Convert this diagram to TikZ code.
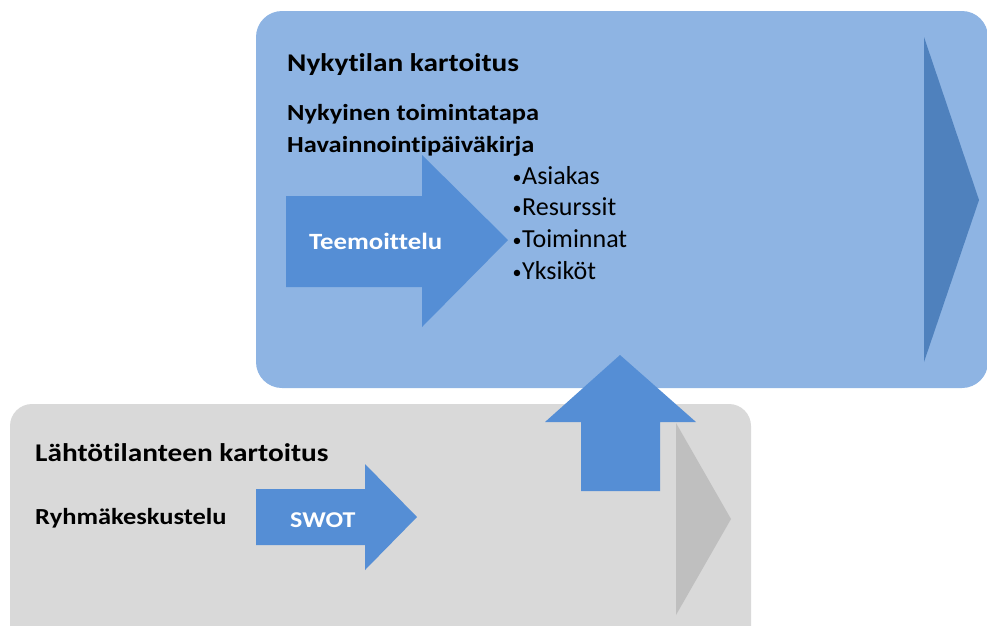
\documentclass[tikz,border=0pt]{standalone}
\usepackage{fontspec}
\setmainfont{Carlito}[Ligatures={NoCommon}]
\newfontfamily\widefont[FakeStretch=1.15,Ligatures={NoCommon}]{Carlito}
\definecolor{panelblue}{HTML}{8EB4E3}
\definecolor{arrowblue}{HTML}{558ED5}
\definecolor{chevblue}{HTML}{4F81BD}
\definecolor{panelgray}{HTML}{D9D9D9}
\definecolor{chevgray}{HTML}{BFBFBF}
\newcommand{\bul}{\llap{\raisebox{0.5pt}{\fontsize{18}{20}\selectfont•}\hspace{0.5pt}}}
\begin{document}
\begin{tikzpicture}[x=1pt,y=-1pt,
  title/.style={anchor=base west,inner sep=0pt,font=\widefont\bfseries\fontsize{25.5}{28}\selectfont},
  sub/.style={anchor=base west,inner sep=0pt,font=\widefont\bfseries\fontsize{23}{25}\selectfont},
  item/.style={anchor=base west,inner sep=0pt,font=\fontsize{26}{28}\selectfont},
  arrowlabel/.style={anchor=base west,inner sep=0pt,text=white,font=\widefont\bfseries\fontsize{23.3}{25}\selectfont}]
\useasboundingbox (0,0) rectangle (987,625);
\clip (0,0) rectangle (987,625);

% lower panel: starting-point survey
\fill[panelgray, rounded corners=22] (10,404) rectangle (751,650);
\fill[chevgray] (676,423) -- (731,519) -- (676,615) -- cycle;
\fill[arrowblue] (256,489) -- (365,489) -- (365,464) -- (417,517) -- (365,570) -- (365,545) -- (256,545) -- cycle;
\node[title] (lahto) at (35,461) {Lähtötilanteen kartoitus};
\node[sub] (ryhma) at (35,524) {Ryhmäkeskustelu};
\node[arrowlabel, font=\widefont\bfseries\fontsize{22.6}{25}\selectfont] (swot) at (290,527) {SWOT};

% upper panel: current-state survey
\fill[panelblue, rounded corners=26] (256,11) rectangle (988,388);
\fill[chevblue] (924,37) -- (979,200) -- (924,362) -- cycle;
\fill[arrowblue] (286,196) -- (422,196) -- (422,155) -- (508,240) -- (422,327) -- (422,287) -- (286,287) -- cycle;
\node[title] (nyky) at (287,71) {Nykytilan kartoitus};
\node[sub] (tapa) at (287,120) {Nykyinen toimintatapa};
\node[sub] (havainto) at (287,152) {Havainnointipäiväkirja};
\node[arrowlabel] (teema) at (309,249) {Teemoittelu};
\node[item] (asiakas) at (522,184) {\bul Asiakas};
\node[item] (resurssit) at (522,215) {\bul Resurssit};
\node[item] (toiminnat) at (522,247) {\bul Toiminnat};
\node[item] (yksikot) at (522,279) {\bul Yksiköt};

% upward arrow between the panels
\fill[arrowblue] (581,491) -- (581,422) -- (545,422) -- (620,355) -- (696,422) -- (660,422) -- (660,491) -- cycle;
\end{tikzpicture}
\end{document}
